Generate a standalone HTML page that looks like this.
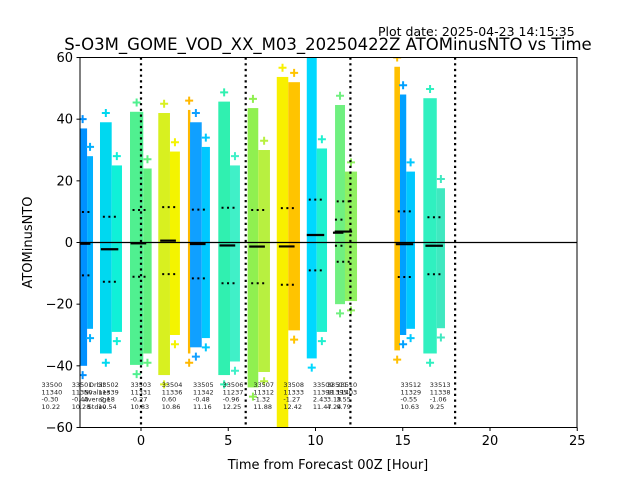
<!DOCTYPE html>
<html><head><meta charset="utf-8">
<style>
body{margin:0;background:#fff;}
svg text{font-family:"DejaVu Sans","Liberation Sans",sans-serif;}
</style></head>
<body>
<svg id="chart" width="640" height="480" viewBox="0 0 640 480" xmlns="http://www.w3.org/2000/svg">
<rect width="640" height="480" fill="#fff"/>
<text x="378" y="36" font-size="12.5">Plot date: 2025-04-23 14:15:35</text>
<text x="328" y="50" font-size="16.5" text-anchor="middle">S-O3M_GOME_VOD_XX_M03_20250422Z ATOMinusNTO vs Time</text>
<text x="328" y="469" font-size="13" text-anchor="middle">Time from Forecast 00Z [Hour]</text>
<text x="0" y="0" font-size="13" text-anchor="middle" transform="translate(32,242.5) rotate(-90)">ATOMinusNTO</text>
<defs><clipPath id="clip"><rect x="80" y="57.5" width="497" height="370"/></clipPath></defs>
<g id="plot" clip-path="url(#clip)"></g>
<g id="over" clip-path="url(#clip)"></g>
<g id="labels"></g>
<rect x="80" y="57.5" width="497" height="370" fill="none" stroke="#000" stroke-width="1"/>
<g id="axes"></g>
</svg>
<script>
// strips of scatter points (hours / values)
const stripT0 = [-3.6,-3.09,-2.35,-1.68,-0.63,0.13,0.99,1.66,2.69,2.81,3.48,4.43,5.10,6.11,6.72,7.78,8.44,9.5,10.07,11.12,11.69,14.52,14.84,15.2,16.18,16.95];
const stripT1 = [-3.09,-2.75,-1.68,-1.09,0.13,0.61,1.66,2.23,2.83,3.48,3.95,5.10,5.67,6.72,7.39,8.44,9.11,10.07,10.66,11.69,12.38,14.84,15.2,15.7,16.95,17.42];
const stripLo = [-40,-28,-36,-29,-39.7,-36,-43,-30,-36,-34,-31,-43,-38.6,-47,-42,-60,-28.5,-37.6,-29,-20,-19,-35,-30,-28,-36,-27.8];
const stripHi = [37,28,39,25,42.4,24,42,29.5,43,39,31,45.7,25,43.6,30,53.7,52,60,30.5,44.6,23,57,48,23,46.8,17.6];
const stripColor = ["#0090ff","#00b0ff","#00d8f0","#10f0d8","#50f090","#60f080","#d8f020","#f4f400","#ffb800","#10a0ff","#00c8ff","#30f0b0","#40f0c8","#90f050","#b8f040","#f8f000","#ffc400","#00d8ff","#20f0d0","#70f080","#90f060","#ffc000","#00a0ff","#00c8ff","#30f0c0","#40e8c0"];
// per orbit statistics
const orbits = ["33500","33501","33502","33503","33504","33505","33506","33507","33508","33509","33511","33510","33512","33513"];
const orbitT = [-5.7,-3.97,-2.46,-0.6,1.19,2.98,4.68,6.44,8.16,9.85,10.65,11.2,14.87,16.55];
const nvalues = ["11340","11350","11339","11331","11336","11342","11237","11312","11333","11398","11395","11403","11329","11338"];
const averages = [-0.30,-0.40,-2.18,-0.27,0.60,-0.48,-0.96,-1.32,-1.27,2.43,3.18,3.55,-0.55,-1.06];
const stdevs = [10.22,10.28,10.54,10.83,10.86,11.16,12.25,11.88,12.42,11.47,4.24,9.79,10.63,9.25];
const lineT0 = [-5.5,-3.5,-2.3,-0.6,1.1,2.8,4.5,6.2,7.9,9.5,11.0,11.1,14.6,16.3];
const lineT1 = [-4.2,-2.9,-1.3,0.3,2.0,3.7,5.4,7.1,8.8,10.5,11.6,12.1,15.6,17.3];
const xTicks = [0,5,10,15,20,25];
const yTicks = [-60,-40,-20,0,20,40,60];
const vLines = [0,6,12,18];

const X = t => 141 + t*17.45;
const Y = v => 242.5 - v*3.083;
const NS="http://www.w3.org/2000/svg";
function mk(tag, attrs, parent){const e=document.createElementNS(NS,tag);for(const k in attrs)e.setAttribute(k,attrs[k]);parent.appendChild(e);return e;}
const plot=document.getElementById('plot'), over=document.getElementById('over'), axes=document.getElementById('axes'), labels=document.getElementById('labels');

for(let i=0;i<stripT0.length;i++){
  const r=mk('rect',{x:X(stripT0[i]),y:Y(stripHi[i]),width:X(stripT1[i])-X(stripT0[i]),height:Y(stripLo[i])-Y(stripHi[i]),fill:stripColor[i]},plot);
  
  
  [stripHi[i]+3,stripLo[i]-3].forEach(v=>{
    const cx=(X(stripT0[i])+X(stripT1[i]))/2, cy=Y(v);
    const p=mk('path',{d:`M${cx-4} ${cy}H${cx+4}M${cx} ${cy-4}V${cy+4}`,stroke:stripColor[i],'stroke-width':2},plot);
    
    
  });
}
const zl=mk('line',{x1:80,x2:577,y1:Y(0),y2:Y(0),stroke:'#000','stroke-width':1.2},over);


vLines.forEach(t=>{
  const l=mk('line',{x1:X(t),x2:X(t),y1:57.5,y2:427.5,stroke:'#000','stroke-width':2.2,'stroke-dasharray':'2.2 3.5'},over);
  
  
});
for(let i=0;i<orbits.length;i++){
  const x0=X(lineT0[i]),x1=X(lineT1[i]);
  const m=mk('line',{x1:x0,x2:x1,y1:Y(averages[i]),y2:Y(averages[i]),stroke:'#000','stroke-width':2.2},over);
  
  
  [averages[i]+stdevs[i],averages[i]-stdevs[i]].forEach(v=>{
    const s=mk('line',{x1:x0+2,x2:x1,y1:Y(v),y2:Y(v),stroke:'#000','stroke-width':2,'stroke-dasharray':'2 3.5'},over);
    
    
  });
  const vals=[orbits[i],nvalues[i],averages[i].toFixed(2),stdevs[i].toFixed(2)];
  vals.forEach((s,j)=>{
    const tx=mk('text',{x:X(orbitT[i]),y:387+j*7.3,'font-size':6.5,fill:'#222'},labels);
    tx.textContent=s;
    
    
  });
}
["Orbit","Nvalues","Average","Stdev"].forEach((s,j)=>{
  const tx=mk('text',{x:97,y:387+j*7.3,'font-size':6.5,fill:'#222','text-anchor':'middle'},labels);
  tx.textContent=s;
  
  
});
xTicks.forEach(t=>{
  mk('line',{x1:X(t),x2:X(t),y1:427.5,y2:431,stroke:'#000'},axes);
  const tx=mk('text',{x:X(t),y:445,'font-size':13,'text-anchor':'middle'},axes);
  tx.textContent=t;
  
  
});
yTicks.forEach(v=>{
  mk('line',{x1:76.5,x2:80,y1:Y(v),y2:Y(v),stroke:'#000'},axes);
  const tx=mk('text',{x:73,y:Y(v)+4.5,'font-size':13,'text-anchor':'end'},axes);
  tx.textContent=(v<0?'\u2212':'')+Math.abs(v);
  
  
});
</script>
</body></html>
